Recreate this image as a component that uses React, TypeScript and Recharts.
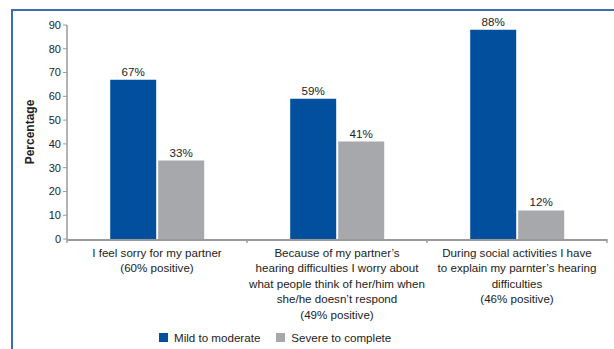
import React from "react";
import { BarChart, Bar, XAxis, YAxis, LabelList, Legend } from "recharts";

const categories = ["sorry", "worry", "explain"];
const tickLines = [
  ["I feel sorry for my partner", "(60% positive)"],
  [
    "Because of my partner\u2019s",
    "hearing difficulties I worry about",
    "what people think of her/him when",
    "she/he doesn\u2019t respond",
    "(49% positive)",
  ],
  [
    "During social activities I have",
    "to explain my parnter\u2019s hearing",
    "difficulties",
    "(46% positive)",
  ],
];
const mildValues = [67, 59, 88];
const severeValues = [33, 41, 12];
const yTicks = [0, 10, 20, 30, 40, 50, 60, 70, 80, 90];
const boundaryTicks = [0, 1, 2, 3];

const BLUE = "#02509d";
const GRAY = "#a7a8ab";
const AXIS = "#9a9a9a";
const FONT = "'Liberation Sans', Arial, sans-serif";

const data = categories.map((c, i) => ({
  cat: c,
  idx: i,
  mild: mildValues[i],
  severe: severeValues[i],
}));

function CategoryTick(props: any) {
  const { x, y, payload } = props;
  const i = categories.indexOf(payload.value);
  const lines = tickLines[i] || [];
  return (
    <text x={x} y={y} textAnchor="middle" fontSize={11.6} fill="#222" fontFamily={FONT}>
      {lines.map((l, k) => (
        <tspan key={k} x={x} dy={k === 0 ? 8.5 : 15.5}>
          {l}
        </tspan>
      ))}
    </text>
  );
}

function EmptyTick() {
  return <g />;
}

function LegendBox() {
  const items = [
    { name: "Mild to moderate", color: BLUE },
    { name: "Severe to complete", color: GRAY },
  ];
  return (
    <div style={{ display: "flex", fontFamily: FONT, fontSize: 11.6, color: "#222", paddingLeft: 142, paddingTop: 4 }}>
      {items.map((it) => (
        <div key={it.name} style={{ display: "flex", alignItems: "center", marginRight: 16 }}>
          <span style={{ width: 9, height: 9, background: it.color, marginRight: 6, display: "inline-block" }} />
          <span>{it.name}</span>
        </div>
      ))}
    </div>
  );
}

export default function App() {
  return (
    <div style={{ position: "absolute", left: 0, top: 0, width: 614, height: 349, background: "#fff" }}>
      <div
        style={{
          position: "absolute",
          left: 11,
          top: 9,
          width: 603,
          height: 340,
          borderTop: "2px solid #3b6fb0",
          borderLeft: "2px solid #3b6fb0",
        }}
      />
      <div style={{ position: "absolute", left: 0, top: 0 }}>
        <BarChart
          width={614}
          height={349}
          data={data}
          margin={{ top: 25, right: 7, left: 17, bottom: 0 }}
          barCategoryGap="24%"
          barGap={2}
          style={{ fontFamily: FONT }}
        >
          {/* boundary ticks between categories */}
          <XAxis
            xAxisId={0}
            type="number"
            dataKey="idx"
            domain={[0, 3]}
            ticks={boundaryTicks}
            allowDataOverflow
            tick={<EmptyTick />}
            axisLine={false}
            tickLine={{ stroke: "#888", strokeWidth: 1.2 }}
            tickSize={4}
            height={1}
          />
          <XAxis
            xAxisId="cat"
            dataKey="cat"
            axisLine={{ stroke: AXIS, strokeWidth: 2 }}
            tickLine={false}
            tick={<CategoryTick />}
            interval={0}
            height={87}
          />
          <YAxis
            domain={[0, 90]}
            ticks={yTicks}
            width={50}
            axisLine={{ stroke: AXIS, strokeWidth: 1.5 }}
            tickLine={{ stroke: AXIS }}
            tickSize={4}
            tick={{ fontSize: 11, fill: "#222" }}
            label={{
              value: "Percentage",
              angle: -90,
              position: "insideLeft",
              offset: 13,
              style: { textAnchor: "middle", fontWeight: "bold", fontSize: 12, fill: "#222" },
            }}
          />
          <Legend verticalAlign="bottom" height={22} content={<LegendBox />} />
          <Bar xAxisId="cat" dataKey="mild" name="Mild to moderate" fill={BLUE} isAnimationActive={false}>
            <LabelList dataKey="mild" position="top" offset={4} formatter={(v: any) => `${v}%`} fill="#222" fontSize={11.6} />
          </Bar>
          <Bar xAxisId="cat" dataKey="severe" name="Severe to complete" fill={GRAY} isAnimationActive={false}>
            <LabelList dataKey="severe" position="top" offset={4} formatter={(v: any) => `${v}%`} fill="#222" fontSize={11.6} />
          </Bar>
        </BarChart>
      </div>
    </div>
  );
}
